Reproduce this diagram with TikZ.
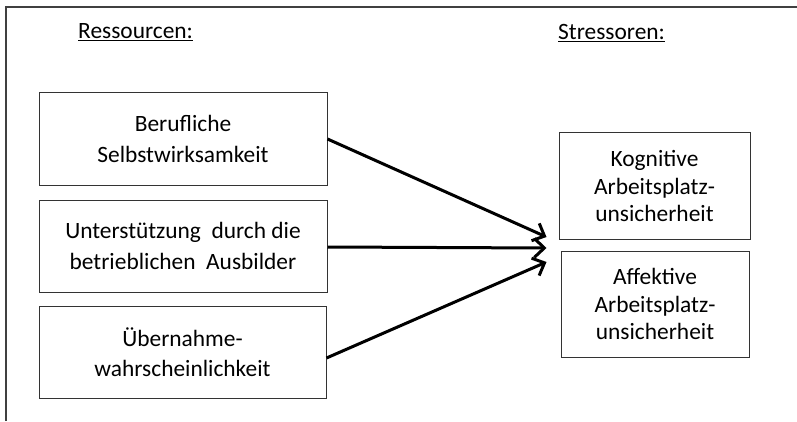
\documentclass[tikz,border=0pt]{standalone}
\usepackage{fontspec}
\setmainfont{Carlito}
\usetikzlibrary{arrows.meta, calc}

\begin{document}
\begin{tikzpicture}[x=1pt, y=1pt,
	font=\fontsize{23.4pt}{27.5pt}\selectfont,
	box/.style={draw=black!80, line width=1pt, align=center, inner sep=0pt},
	ressource/.style={box, minimum width=288, minimum height=92,
		font=\fontsize{23.4pt}{30.5pt}\selectfont},
	stressor/.style={box, minimum height=106},
	title/.style={anchor=base west, inner sep=0pt},
	effect/.style={-{Straight Barb[length=10pt, width=19pt, line width=3pt]}, line width=3pt}]
	
	% 1. Canvas and the (cut) frame
	\useasboundingbox (0, 0) rectangle (797, 421);
	\draw[black!75, line width=1.4pt] (6, 0) |- (797, 414);
	
	% 2. Column headings
	\node[title] (res) at (78, 382) {\underline{Ressourcen:}};
	\node[title] (str) at (558, 381) {\underline{Stressoren:}};
	
	% 3. Resources (left column)
	\node[ressource] (selbst) at (183, 282)
	{Berufliche\\Selbstwirksamkeit};
	\node[ressource] (ausbilder) at (183, 175)
	{Unterstützung\ \ durch die\\betrieblichen\ \ Ausbilder};
	\node[ressource, minimum width=287] (uebernahme) at (182.5, 69)
	{Übernahme-\\wahrscheinlichkeit};
	
	% 4. Stressors (right column)
	\node[stressor, minimum width=191] (kognitiv) at (654.5, 235)
	{Kognitive\\Arbeitsplatz-\\unsicherheit};
	\node[stressor, minimum width=188] (affektiv) at (655, 117)
	{Affektive\\Arbeitsplatz-\\unsicherheit};
	
	% 5. Arrow tips end in front of the gap between the two stressors
	\coordinate (tipA) at ($(kognitiv.west) + (-12, -51)$);
	\coordinate (tipB) at ($(kognitiv.west) + (-12, -62)$);
	\coordinate (tipC) at ($(kognitiv.west) + (-12, -76)$);
	
	% 6. Effects
	\draw[effect] (selbst.east) -- (tipA);
	\draw[effect] ([yshift=-1pt]ausbilder.east) -- (tipB);
	\draw[effect] ([yshift=-6pt]uebernahme.east) -- (tipC);
	
\end{tikzpicture}
\end{document}
